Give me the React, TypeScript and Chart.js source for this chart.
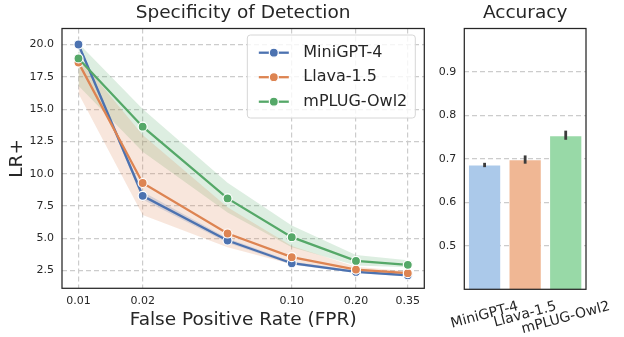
import React, { useEffect, useRef } from "react";
import { Chart, registerables } from "chart.js";

Chart.register(...registerables);

// ---------- data ----------
const fprValues = [0.01, 0.02, 0.05, 0.1, 0.2, 0.35];
const fprTicks = [0.01, 0.02, 0.1, 0.2, 0.35];
const lrTicks = [2.5, 5, 7.5, 10, 12.5, 15, 17.5, 20];
const seriesNames = ["MiniGPT-4", "Llava-1.5", "mPLUG-Owl2"];

const miniLR = [20.0, 8.29, 4.83, 3.07, 2.4, 2.14];
const miniLow = [19.8, 8.0, 4.65, 2.95, 2.32, 2.05];
const miniHigh = [20.2, 8.6, 5.0, 3.2, 2.48, 2.22];

const llavaLR = [18.6, 9.28, 5.37, 3.54, 2.58, 2.3];
const llavaLow = [16.2, 6.8, 4.3, 3.0, 2.4, 2.2];
const llavaHigh = [19.0, 13.0, 7.4, 4.4, 2.8, 2.45];

const owlLR = [18.92, 13.64, 8.09, 5.09, 3.25, 2.95];
const owlLow = [16.8, 11.7, 7.0, 4.3, 2.9, 2.75];
const owlHigh = [20.1, 15.0, 9.3, 6.0, 3.7, 3.3];

const accModels = ["MiniGPT-4", "Llava-1.5", "mPLUG-Owl2"];
const accMean = [0.685, 0.697, 0.752];
const accLow = [0.681, 0.689, 0.744];
const accHigh = [0.691, 0.708, 0.765];
const accTicks = [0.5, 0.6, 0.7, 0.8, 0.9];

// ---------- style ----------
const FONT = "'DejaVu Sans', sans-serif";
const TEXT = "#262626";
const GRID = "#cccccc";
const SPINE = "#262626";
const lineColors = ["#4c72b0", "#dd8452", "#55a868"];
const bandColors = ["rgba(76,114,176,0.2)", "rgba(221,132,82,0.2)", "rgba(85,168,104,0.2)"];
const barColors = ["#abc9ea", "#f0b794", "#98d9a7"];

const lineSeries = [miniLR, llavaLR, owlLR];
const lowSeries = [miniLow, llavaLow, owlLow];
const highSeries = [miniHigh, llavaHigh, owlHigh];

const toPts = (arr: number[]) => fprValues.map((x, i) => ({ x, y: arr[i] }));

const boxPlugin = {
  id: "boxFrame",
  afterDraw(chart: any) {
    const { ctx, chartArea } = chart;
    ctx.save();
    ctx.strokeStyle = SPINE;
    ctx.lineWidth = 1.25;
    ctx.strokeRect(chartArea.left, chartArea.top, chartArea.right - chartArea.left, chartArea.bottom - chartArea.top);
    ctx.restore();
  },
};

const legendPlugin = {
  id: "seabornLegend",
  afterDraw(chart: any) {
    const { ctx, chartArea } = chart;
    const fs = 16;
    ctx.save();
    ctx.font = `${fs}px ${FONT}`;
    const textW = Math.max(...seriesNames.map((n) => ctx.measureText(n).width));
    const w = 56 + textW + 8;
    const h = 83;
    const right = chartArea.right - 9;
    const left = right - w;
    const top = chartArea.top + 6.5;
    const r = 3;
    ctx.beginPath();
    ctx.moveTo(left + r, top);
    ctx.lineTo(right - r, top);
    ctx.quadraticCurveTo(right, top, right, top + r);
    ctx.lineTo(right, top + h - r);
    ctx.quadraticCurveTo(right, top + h, right - r, top + h);
    ctx.lineTo(left + r, top + h);
    ctx.quadraticCurveTo(left, top + h, left, top + h - r);
    ctx.lineTo(left, top + r);
    ctx.quadraticCurveTo(left, top, left + r, top);
    ctx.closePath();
    ctx.fillStyle = "rgba(255,255,255,0.8)";
    ctx.fill();
    ctx.strokeStyle = "#d6d6d6";
    ctx.lineWidth = 1;
    ctx.stroke();
    seriesNames.forEach((name, i) => {
      const y = top + 17.7 + i * 24.5;
      ctx.strokeStyle = lineColors[i];
      ctx.lineWidth = 2.3;
      ctx.beginPath();
      ctx.moveTo(left + 11.5, y);
      ctx.lineTo(left + 41.5, y);
      ctx.stroke();
      ctx.beginPath();
      ctx.arc(left + 26.5, y, 4.5, 0, Math.PI * 2);
      ctx.fillStyle = lineColors[i];
      ctx.fill();
      ctx.strokeStyle = "#ffffff";
      ctx.lineWidth = 1.2;
      ctx.stroke();
      ctx.fillStyle = TEXT;
      ctx.textAlign = "left";
      ctx.textBaseline = "middle";
      ctx.fillText(name, left + 56, y);
    });
    ctx.restore();
  },
};

const errorBarPlugin = {
  id: "errorBars",
  afterDatasetsDraw(chart: any) {
    const { ctx } = chart;
    const meta = chart.getDatasetMeta(0);
    const yScale = chart.scales.y;
    ctx.save();
    ctx.strokeStyle = "#3c3c3c";
    ctx.lineWidth = 2.8;
    ctx.lineCap = "butt";
    meta.data.forEach((bar: any, i: number) => {
      ctx.beginPath();
      ctx.moveTo(bar.x, yScale.getPixelForValue(accLow[i]));
      ctx.lineTo(bar.x, yScale.getPixelForValue(accHigh[i]));
      ctx.stroke();
    });
    ctx.restore();
  },
};

const rotatedLabelPlugin = {
  id: "rotatedLabels",
  afterDraw(chart: any) {
    const { ctx, chartArea } = chart;
    const xScale = chart.scales.x;
    const fs = 14;
    const ang = (15 * Math.PI) / 180;
    ctx.save();
    ctx.font = `${fs}px ${FONT}`;
    ctx.fillStyle = TEXT;
    ctx.textAlign = "center";
    ctx.textBaseline = "middle";
    accModels.forEach((label, i) => {
      const x = xScale.getPixelForTick(i);
      const w = ctx.measureText(label).width;
      const h = fs * 1.17;
      const cy = chartArea.bottom + 9 + (w / 2) * Math.sin(ang) + (h / 2) * Math.cos(ang);
      ctx.save();
      ctx.translate(x, cy);
      ctx.rotate(-ang);
      ctx.fillText(label, 0, 0);
      ctx.restore();
    });
    ctx.restore();
  },
};

export default function App() {
  const leftRef = useRef<HTMLCanvasElement>(null);
  const rightRef = useRef<HTMLCanvasElement>(null);

  useEffect(() => {
    const datasets: any[] = [];
    lineSeries.forEach((arr, i) => {
      datasets.push({
        label: seriesNames[i],
        data: toPts(arr),
        borderColor: lineColors[i],
        backgroundColor: lineColors[i],
        borderWidth: 2.3,
        pointRadius: 4.5,
        pointBackgroundColor: lineColors[i],
        pointBorderColor: "#ffffff",
        pointBorderWidth: 1.2,
        fill: false,
        tension: 0,
        order: 2 - i,
      });
    });
    lineSeries.forEach((_, i) => {
      const upperIndex = datasets.length;
      datasets.push({
        label: seriesNames[i] + " upper",
        data: toPts(highSeries[i]),
        borderColor: "transparent",
        borderWidth: 0,
        pointRadius: 0,
        fill: false,
        order: 10,
      });
      datasets.push({
        label: seriesNames[i] + " lower",
        data: toPts(lowSeries[i]),
        borderColor: "transparent",
        backgroundColor: bandColors[i],
        borderWidth: 0,
        pointRadius: 0,
        fill: { target: upperIndex },
        order: 10,
      });
    });

    const tickFont = { family: FONT, size: 11 };
    const labelFont = { family: FONT, size: 18.5, weight: "normal" as const };

    const c1 = new Chart(leftRef.current!, {
      type: "line",
      data: { datasets },
      options: {
        responsive: false,
        animation: false,
        layout: { padding: { left: 0, right: 3, top: 0, bottom: 0 } },
        plugins: {
          legend: { display: false },
          tooltip: { enabled: false },
          title: {
            display: true,
            text: "Specificity of Detection",
            font: labelFont,
            color: TEXT,
            padding: { top: 2.2, bottom: 4.1 },
            fullSize: false,
          },
        },
        scales: {
          x: {
            type: "logarithmic",
            min: 0.008372,
            max: 0.4182,
            afterBuildTicks: (s: any) => {
              s.ticks = fprTicks.map((v) => ({ value: v }));
            },
            afterFit: (s: any) => {
              s.height = 48.7;
            },
            ticks: {
              callback: (v: any) => Number(v).toFixed(2),
              font: tickFont,
              color: TEXT,
              padding: 6,
              autoSkip: false,
              maxRotation: 0,
              minRotation: 0,
            },
            grid: { color: GRID, lineWidth: 1.2, drawTicks: false },
            border: { display: false, dash: [5, 3] },
            title: {
              display: true,
              text: "False Positive Rate (FPR)",
              font: labelFont,
              color: TEXT,
              padding: { top: 0, bottom: 5.9 },
            },
          },
          y: {
            type: "linear",
            min: 1.13,
            max: 21.24,
            afterBuildTicks: (s: any) => {
              s.ticks = lrTicks.map((v) => ({ value: v }));
            },
            afterFit: (s: any) => {
              s.width = 62;
            },
            ticks: {
              callback: (v: any) => Number(v).toFixed(1),
              font: tickFont,
              color: TEXT,
              padding: 8,
            },
            grid: { color: GRID, lineWidth: 1.2, drawTicks: false },
            border: { display: false, dash: [5, 3] },
            title: {
              display: true,
              text: "LR+",
              font: labelFont,
              color: TEXT,
              padding: { top: 5.6, bottom: 0 },
            },
          },
        },
      },
      plugins: [boxPlugin, legendPlugin],
    });

    const c2 = new Chart(rightRef.current!, {
      type: "bar",
      data: {
        labels: accModels,
        datasets: [
          {
            label: "Accuracy",
            data: accMean,
            backgroundColor: barColors,
            borderWidth: 0,
            barPercentage: 0.77,
            categoryPercentage: 1,
          },
        ],
      },
      options: {
        responsive: false,
        animation: false,
        layout: { padding: { left: 0, right: 38, top: 0, bottom: 0 } },
        plugins: {
          legend: { display: false },
          tooltip: { enabled: false },
          title: {
            display: true,
            text: "Accuracy",
            font: labelFont,
            color: TEXT,
            padding: { top: 2.2, bottom: 4.1 },
            fullSize: false,
          },
        },
        scales: {
          x: {
            type: "category",
            ticks: { display: false },
            grid: { display: false, drawTicks: false },
            border: { display: false },
            afterFit: (s: any) => {
              s.height = 47.7;
            },
          },
          y: {
            type: "linear",
            min: 0.4,
            max: 1.0,
            afterBuildTicks: (s: any) => {
              s.ticks = accTicks.map((v) => ({ value: v }));
            },
            afterFit: (s: any) => {
              s.width = 34.3;
            },
            ticks: {
              callback: (v: any) => Number(v).toFixed(1),
              font: tickFont,
              color: TEXT,
              padding: 8,
            },
            grid: { color: GRID, lineWidth: 1.2, drawTicks: false },
            border: { display: false, dash: [5, 3] },
          },
        },
      },
      plugins: [errorBarPlugin, boxPlugin, rotatedLabelPlugin],
    });

    return () => {
      c1.destroy();
      c2.destroy();
    };
  }, []);

  return (
    <div
      style={{
        position: "fixed",
        left: 0,
        top: 0,
        width: 624,
        height: 337,
        background: "#ffffff",
        overflow: "hidden",
      }}
    >
      <canvas ref={leftRef} width={430} height={337} style={{ position: "absolute", left: 0, top: 0 }} />
      <canvas ref={rightRef} width={194} height={337} style={{ position: "absolute", left: 430, top: 0 }} />
    </div>
  );
}
